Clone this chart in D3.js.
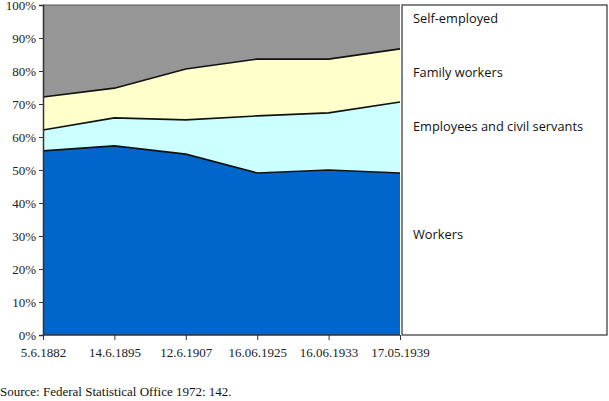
<!DOCTYPE html>
<html>
<head>
<meta charset="utf-8">
<script src="https://cdn.jsdelivr.net/npm/d3@7"></script>
<style>
body { margin: 0; background: #fff; }
</style>
</head>
<body>
<div class="canvas"></div>
<script>
const canvasWidth = 609;
const canvasHeight = 401;
const margin = { top: 5, left: 43, bottom: 66, right: 209 };
const graphWidth = canvasWidth - margin.left - margin.right;
const graphHeight = canvasHeight - margin.top - margin.bottom;

// census dates
const dates = ['5.6.1882', '14.6.1895', '12.6.1907', '16.06.1925', '16.06.1933', '17.05.1939'];
// shares in percent
const workers = [55.8, 57.3, 54.8, 49.1, 50.0, 49.1];
const employees = [6.3, 8.5, 10.4, 17.3, 17.3, 21.5];
const familyWorkers = [10.0, 9.0, 15.4, 17.2, 16.3, 16.1];
const selfEmployed = [27.9, 25.2, 19.4, 16.4, 16.4, 13.3];
const seriesNames = ['Workers', 'Employees and civil servants', 'Family workers', 'Self-employed'];
const yTicks = [0, 10, 20, 30, 40, 50, 60, 70, 80, 90, 100];

const colors = ['#0066cc', '#ccffff', '#ffffcc', '#969696'];

const data = dates.map((d, i) => ({
	date: d,
	'Workers': workers[i],
	'Employees and civil servants': employees[i],
	'Family workers': familyWorkers[i],
	'Self-employed': selfEmployed[i]
}));

const svg = d3.select('.canvas')
	.append('svg')
	.attr('width', canvasWidth)
	.attr('height', canvasHeight);

const graph = svg.append('g')
	.attr('transform', `translate(${margin.left},${margin.top})`);

const x = d3.scalePoint()
	.domain(dates)
	.range([0, graphWidth]);

const y = d3.scaleLinear()
	.domain([0, 100])
	.range([graphHeight, 0]);

const stacked = d3.stack().keys(seriesNames)(data);

const area = d3.area()
	.x(d => x(d.data.date))
	.y0(d => y(d[0]))
	.y1(d => y(d[1]));

graph.selectAll('path.layer')
	.data(stacked)
	.enter()
	.append('path')
	.attr('class', 'layer')
	.attr('d', area)
	.attr('fill', (d, i) => colors[i]);

// boundary lines between layers
const line = d3.line()
	.x(d => x(d.data.date))
	.y(d => y(d[1]));

graph.selectAll('path.edge')
	.data(stacked.slice(0, 3))
	.enter()
	.append('path')
	.attr('class', 'edge')
	.attr('d', line)
	.attr('fill', 'none')
	.attr('stroke', '#111')
	.attr('stroke-width', 1.6);

// top border of plot
graph.append('line')
	.attr('x1', 0).attr('x2', graphWidth)
	.attr('y1', 0).attr('y2', 0)
	.attr('stroke', '#555')
	.attr('stroke-width', 1.2);

const yAxis = d3.axisLeft(y)
	.tickValues(yTicks)
	.tickSize(4)
	.tickFormat(d => d + '%');

const xAxis = d3.axisBottom(x)
	.tickSize(5)
	.tickPadding(8);

const yAxisGroup = graph.append('g').call(yAxis);
const xAxisGroup = graph.append('g')
	.attr('transform', `translate(0,${graphHeight})`)
	.call(xAxis);

[yAxisGroup, xAxisGroup].forEach(g => {
	g.select('.domain').attr('stroke', '#333').attr('stroke-width', 1.5);
	g.selectAll('.tick line').attr('stroke', '#333');
	g.selectAll('text')
		.attr('font-family', '"Liberation Serif", "Times New Roman", serif')
		.attr('font-size', '13px')
		.attr('fill', '#222');
});
xAxisGroup.select('.domain').attr('d', `M0,0H${graphWidth}`);
yAxisGroup.selectAll('text').attr('x', -7);

// legend box
const legend = svg.append('g')
	.attr('transform', `translate(402,${margin.top})`);

legend.append('rect')
	.attr('width', 205)
	.attr('height', graphHeight)
	.attr('fill', '#fff')
	.attr('stroke', '#333')
	.attr('stroke-width', 1.2);

const legendY = { 'Self-employed': 18, 'Family workers': 72, 'Employees and civil servants': 126, 'Workers': 234 };

legend.selectAll('text')
	.data(seriesNames)
	.enter()
	.append('text')
	.attr('x', 11)
	.attr('y', d => legendY[d])
	.attr('font-family', '"Open Sans", "Noto Sans", sans-serif')
	.attr('font-size', '12.8px')
	.attr('fill', '#111')
	.text(d => d);

svg.append('text')
	.attr('x', 0)
	.attr('y', 396)
	.attr('font-family', '"Liberation Serif", "Times New Roman", serif')
	.attr('font-size', '13px')
	.attr('fill', '#111')
	.text('Source: Federal Statistical Office 1972: 142.');
</script>
</body>
</html>
